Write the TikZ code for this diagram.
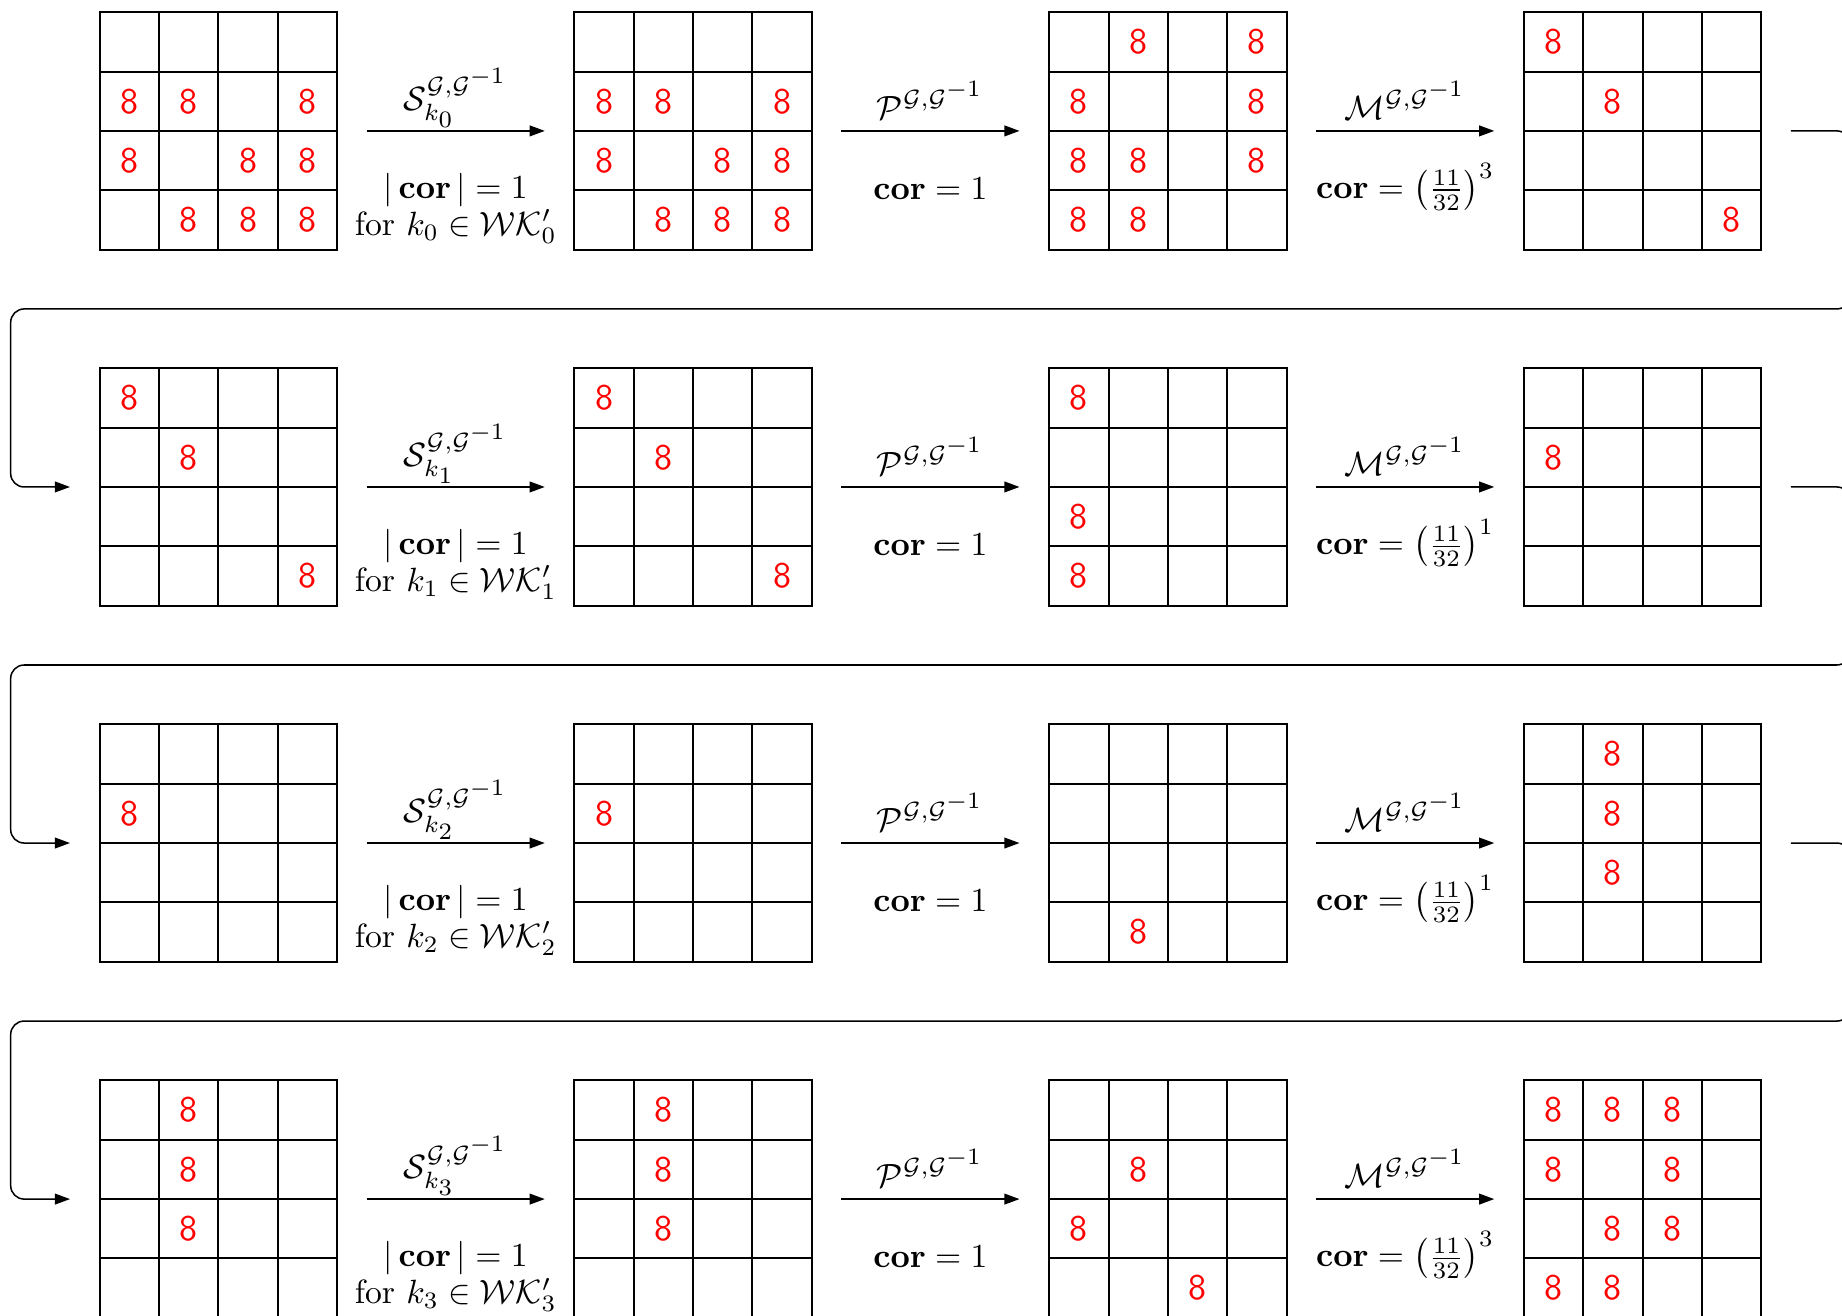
\documentclass[tikz,border=0pt]{standalone}
\usetikzlibrary{arrows.meta}
\DeclareMathSizes{10}{10}{7}{7}
\begin{document}
\begin{tikzpicture}[x=0.62cm,y=0.62cm,
  gridbox/.style={draw, semithick, minimum width=2.48cm, minimum height=2.48cm, inner sep=0pt, outer sep=0pt},
  gridline/.style={semithick},
  eight/.style={text=red, font=\sffamily\fontsize{10.7}{12}\selectfont, inner sep=0pt},
  arr/.style={-{Triangle[length=4.5pt,width=3.2pt]}, line width=0.45pt},
  conn/.style={arr, rounded corners=4pt},
  lab/.style={anchor=base, inner sep=0pt}
]
\useasboundingbox (-1.68,0.206) rectangle (29.36,-21.964);
% grids
\foreach \R in {0,...,3}{
  \foreach \K in {0,...,3}{
    \node[gridbox] (g\R\K) at ({8*\K+2},{-6*\R-2}) {};
    \foreach \i in {1,2,3}{
      \draw[gridline] ({8*\K+\i},{-6*\R}) -- ({8*\K+\i},{-6*\R-4});
      \draw[gridline] ({8*\K},{-6*\R-\i}) -- ({8*\K+4},{-6*\R-\i});
    }
  }
}
% red eights
\foreach \R/\K/\L in {
  0/0/{1/0,1/1,1/3,2/0,2/2,2/3,3/1,3/2,3/3},
  0/1/{1/0,1/1,1/3,2/0,2/2,2/3,3/1,3/2,3/3},
  0/2/{0/1,0/3,1/0,1/3,2/0,2/1,2/3,3/0,3/1},
  0/3/{0/0,1/1,3/3},
  1/0/{0/0,1/1,3/3},
  1/1/{0/0,1/1,3/3},
  1/2/{0/0,2/0,3/0},
  1/3/{1/0},
  2/0/{1/0},
  2/1/{1/0},
  2/2/{3/1},
  2/3/{0/1,1/1,2/1},
  3/0/{0/1,1/1,2/1},
  3/1/{0/1,1/1,2/1},
  3/2/{1/1,2/0,3/2},
  3/3/{0/0,0/1,0/2,1/0,1/2,2/1,2/2,3/0,3/1}}
{
  \foreach \r/\c in \L {
    \node[eight] (e\R\K\r\c) at ({8*\K+\c+0.5},{-6*\R-\r-0.5}) {8};
  }
}
% arrows within rows
\foreach \R in {0,...,3}{
  \foreach \K [evaluate=\K as \Kn using int(\K+1)] in {0,1,2}{
    \draw[arr] ([xshift=0.31cm]g\R\K.east) -- ([xshift=-0.31cm]g\R\Kn.west);
  }
}
% labels
\foreach \R/\ex in {0/3,1/1,2/1,3/3}{
  \node[lab] (s\R) at (6,{-6*\R-1.648}) {$\mathcal{S}^{\mathcal{G},\mathcal{G}^{-1}}_{k_{\R}}$};
  \node[lab] (sa\R) at (6,{-6*\R-3.14}) {$|\,\mathbf{cor}\,| = 1$};
  \node[lab] (sb\R) at (6,{-6*\R-3.755}) {for $k_{\R} \in \mathcal{W}\mathcal{K}'_{\R}$};
  \node[above] (p\R) at (14,{-6*\R-2}) {$\mathcal{P}^{\mathcal{G},\mathcal{G}^{-1}}$};
  \node[lab] (pa\R) at (14,{-6*\R-3.15}) {$\mathbf{cor} = 1$};
  \node[above] (m\R) at (22,{-6*\R-2}) {$\mathcal{M}^{\mathcal{G},\mathcal{G}^{-1}}$};
  \node[lab] (ma\R) at (22,{-6*\R-3.14}) {$\mathbf{cor} = \left(\frac{11}{32}\right)^{\ex}$};
}
% connectors between rows
\foreach \R [evaluate=\R as \Rn using int(\R+1)] in {0,1,2}{
  \coordinate (o\R) at ([xshift=0.31cm]g\R3.east);
  \coordinate (i\Rn) at ([xshift=-0.31cm]g\Rn0.west);
  \draw[conn] (o\R) -- (29.5,{-6*\R-2}) -- (29.5,{-6*\R-5}) -- (-1.5,{-6*\R-5}) -- (-1.5,{-6*\R-8}) -- (i\Rn);
}
\end{tikzpicture}
\end{document}
